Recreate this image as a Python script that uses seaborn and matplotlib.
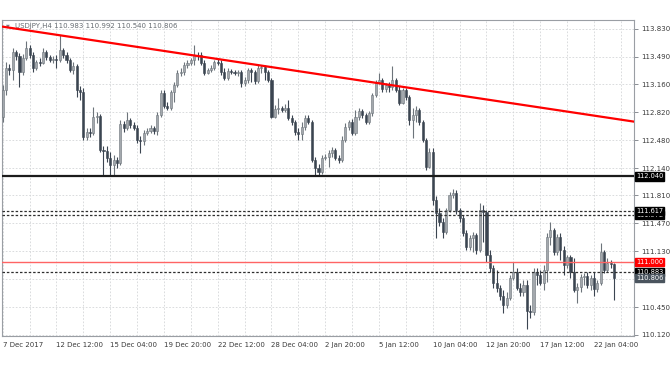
import numpy as np
import pandas as pd
import seaborn as sns
import matplotlib.pyplot as plt
from matplotlib.transforms import blended_transform_factory

# USDJPY H4 candles (bar 0 = 7 Dec 2017)
opens = [112.76, 113.09, 113.36, 113.33, 113.55, 113.50, 113.31, 113.48, 113.60, 113.52,
         113.36, 113.43, 113.42, 113.55, 113.49, 113.45, 113.47, 113.45, 113.58, 113.52,
         113.45, 113.33, 113.38, 113.09, 113.07, 112.52, 112.58, 112.57, 112.76, 112.77,
         112.36, 112.35, 112.27, 112.18, 112.24, 112.20, 112.68, 112.63, 112.73, 112.67,
         112.63, 112.48, 112.47, 112.57, 112.59, 112.63, 112.59, 112.79, 113.05, 112.90,
         112.87, 113.07, 113.15, 113.30, 113.31, 113.39, 113.42, 113.45, 113.52, 113.51,
         113.42, 113.30, 113.33, 113.36, 113.43, 113.42, 113.31, 113.24, 113.32, 113.31,
         113.30, 113.31, 113.17, 113.21, 113.33, 113.31, 113.20, 113.36, 113.37, 113.31,
         113.21, 112.76, 112.86, 112.87, 112.85, 112.87, 112.75, 112.70, 112.58, 112.56,
         112.64, 112.75, 112.70, 112.24, 112.14, 112.09, 112.27, 112.28, 112.33, 112.36,
         112.27, 112.24, 112.48, 112.64, 112.70, 112.57, 112.76, 112.83, 112.79, 112.70,
         112.81, 113.03, 113.19, 113.21, 113.10, 113.15, 113.13, 113.21, 113.09, 112.93,
         113.09, 113.01, 112.73, 112.79, 112.85, 112.70, 112.48, 112.16, 112.34, 111.75,
         111.60, 111.49, 111.37, 111.63, 111.82, 111.84, 111.63, 111.54, 111.35, 111.18,
         111.29, 111.33, 111.15, 111.63, 111.61, 111.09, 110.93, 110.75, 110.69, 110.59,
         110.48, 110.57, 110.81, 110.88, 110.69, 110.64, 110.72, 110.41, 110.40, 110.88,
         110.85, 110.75, 110.91, 111.31, 111.39, 111.12, 111.31, 111.15, 110.97, 111.06,
         110.88, 110.66, 110.70, 110.82, 110.83, 110.72, 110.81, 110.67, 110.75, 111.12,
         110.91, 110.99, 110.983]
highs = [113.15, 113.43, 113.41, 113.60, 113.58, 113.54, 113.53, 113.68, 113.64, 113.55,
         113.45, 113.48, 113.60, 113.58, 113.52, 113.50, 113.52, 113.76, 113.60, 113.55,
         113.48, 113.43, 113.41, 113.14, 113.11, 112.63, 112.63, 112.88, 112.82, 112.80,
         112.41, 112.41, 112.34, 112.30, 112.28, 112.73, 112.71, 112.82, 112.75, 112.70,
         112.67, 112.53, 112.60, 112.63, 112.67, 112.65, 112.82, 113.09, 113.09, 112.94,
         113.09, 113.19, 113.33, 113.36, 113.43, 113.45, 113.48, 113.64, 113.55, 113.55,
         113.45, 113.36, 113.39, 113.45, 113.48, 113.45, 113.36, 113.36, 113.34, 113.33,
         113.33, 113.33, 113.25, 113.36, 113.36, 113.33, 113.39, 113.39, 113.39, 113.33,
         113.24, 112.91, 112.99, 112.90, 112.92, 112.97, 112.79, 112.73, 112.63, 112.70,
         112.79, 112.79, 112.73, 112.28, 112.19, 112.30, 112.31, 112.36, 112.40, 112.39,
         112.30, 112.53, 112.69, 112.73, 112.74, 112.85, 112.87, 112.86, 112.81, 112.83,
         113.05, 113.21, 113.30, 113.24, 113.17, 113.19, 113.38, 113.24, 113.14, 113.11,
         113.11, 113.03, 112.87, 112.90, 112.87, 112.73, 112.51, 112.39, 112.39, 111.80,
         111.66, 111.54, 111.66, 111.85, 111.89, 111.88, 111.66, 111.57, 111.39, 111.33,
         111.37, 111.35, 111.72, 111.69, 111.63, 111.15, 110.97, 110.91, 110.72, 110.66,
         110.64, 110.85, 111.00, 110.93, 110.75, 110.78, 110.78, 110.48, 110.93, 110.93,
         110.91, 110.97, 111.35, 111.49, 111.42, 111.34, 111.35, 111.20, 111.09, 111.09,
         111.05, 110.75, 110.86, 110.87, 110.88, 110.85, 110.88, 110.78, 111.23, 111.15,
         111.05, 111.03, 110.992]
lows = [112.70, 113.03, 113.27, 113.21, 113.45, 113.13, 113.27, 113.45, 113.48, 113.31,
        113.33, 113.38, 113.41, 113.45, 113.43, 113.42, 113.36, 113.43, 113.48, 113.42,
        113.31, 113.28, 113.01, 112.97, 112.48, 112.48, 112.52, 112.54, 112.69, 112.34,
        112.06, 112.22, 112.05, 112.06, 112.14, 112.18, 112.58, 112.60, 112.63, 112.60,
        112.45, 112.33, 112.42, 112.54, 112.57, 112.56, 112.54, 112.76, 112.87, 112.85,
        112.85, 112.94, 113.13, 113.26, 113.27, 113.36, 113.39, 113.39, 113.45, 113.39,
        113.27, 113.28, 113.31, 113.33, 113.39, 113.27, 113.21, 113.21, 113.28, 113.27,
        113.26, 113.13, 113.14, 113.17, 113.19, 113.16, 113.17, 113.30, 113.21, 113.19,
        112.75, 112.75, 112.80, 112.82, 112.82, 112.73, 112.67, 112.54, 112.48, 112.48,
        112.60, 112.68, 112.22, 112.05, 112.05, 112.07, 112.24, 112.16, 112.28, 112.24,
        112.20, 112.22, 112.46, 112.60, 112.54, 112.54, 112.73, 112.75, 112.68, 112.68,
        112.77, 113.01, 113.16, 113.07, 113.07, 113.07, 113.09, 113.07, 112.91, 112.92,
        112.97, 112.67, 112.51, 112.70, 112.67, 112.46, 112.12, 112.14, 111.69, 111.29,
        111.44, 111.29, 111.34, 111.61, 111.78, 111.58, 111.49, 111.32, 111.15, 111.15,
        111.12, 111.10, 111.12, 111.25, 111.00, 110.88, 110.69, 110.64, 110.54, 110.38,
        110.44, 110.54, 110.78, 110.66, 110.59, 110.59, 110.19, 110.32, 110.36, 110.72,
        110.72, 110.66, 110.76, 111.21, 111.09, 111.09, 111.03, 110.85, 110.93, 110.81,
        110.64, 110.51, 110.64, 110.72, 110.69, 110.66, 110.59, 110.64, 110.72, 110.87,
        110.88, 110.93, 110.540]
closes = [113.09, 113.36, 113.33, 113.55, 113.50, 113.31, 113.48, 113.60, 113.52, 113.36,
          113.43, 113.42, 113.55, 113.49, 113.45, 113.47, 113.45, 113.58, 113.52, 113.45,
          113.33, 113.38, 113.09, 113.07, 112.52, 112.58, 112.57, 112.76, 112.77, 112.36,
          112.35, 112.27, 112.18, 112.24, 112.20, 112.68, 112.63, 112.73, 112.67, 112.63,
          112.48, 112.47, 112.57, 112.59, 112.63, 112.59, 112.79, 113.05, 112.90, 112.87,
          113.07, 113.15, 113.30, 113.31, 113.39, 113.42, 113.45, 113.52, 113.51, 113.42,
          113.30, 113.33, 113.36, 113.43, 113.42, 113.31, 113.24, 113.32, 113.31, 113.30,
          113.31, 113.17, 113.21, 113.33, 113.31, 113.20, 113.36, 113.37, 113.31, 113.21,
          112.76, 112.86, 112.87, 112.85, 112.87, 112.75, 112.70, 112.58, 112.56, 112.64,
          112.75, 112.70, 112.24, 112.14, 112.09, 112.27, 112.28, 112.33, 112.36, 112.27,
          112.24, 112.48, 112.64, 112.70, 112.57, 112.76, 112.83, 112.79, 112.70, 112.81,
          113.03, 113.19, 113.21, 113.10, 113.15, 113.13, 113.21, 113.09, 112.93, 113.09,
          113.01, 112.73, 112.79, 112.85, 112.70, 112.48, 112.16, 112.34, 111.75, 111.60,
          111.49, 111.37, 111.63, 111.82, 111.84, 111.63, 111.54, 111.35, 111.18, 111.29,
          111.33, 111.15, 111.63, 111.61, 111.09, 110.93, 110.75, 110.69, 110.59, 110.48,
          110.57, 110.81, 110.88, 110.69, 110.64, 110.72, 110.41, 110.40, 110.88, 110.85,
          110.75, 110.91, 111.31, 111.39, 111.12, 111.31, 111.15, 110.97, 111.06, 110.88,
          110.66, 110.70, 110.82, 110.83, 110.72, 110.81, 110.67, 110.75, 111.12, 110.91,
          110.99, 110.98, 110.806]

symbol = "USDJPY,H4"
tick_bars = [0, 16, 32, 48, 64, 80, 96, 112, 128, 144, 160, 176]
date_labels = ["7 Dec 2017", "12 Dec 12:00", "15 Dec 04:00", "19 Dec 20:00",
               "22 Dec 12:00", "28 Dec 04:00", "2 Jan 20:00", "5 Jan 12:00",
               "10 Jan 04:00", "12 Jan 20:00", "17 Jan 12:00", "22 Jan 04:00"]
price_ticks = [113.830, 113.490, 113.160, 112.820, 112.480, 112.140,
               111.810, 111.470, 111.130, 110.790, 110.450, 110.120]
hidden_tick = 110.790  # sits under the current-price tag

# drawn levels
support = 112.040
red_level = 111.000
dashed_levels = [111.617, 111.572, 110.883]
trend_bars = [0, 188]
trend_prices = [113.858, 112.705]

df = pd.DataFrame({"open": opens, "high": highs, "low": lows, "close": closes})
df["bar"] = np.arange(len(df))
df["up"] = df["close"] >= df["open"]

sns.set_style("white")
plt.rcParams["font.family"] = ["DejaVu Sans"]

fig = plt.figure(figsize=(6.72, 3.72), dpi=100)
ax = fig.add_axes([2 / 672, 36 / 372, 632 / 672, 316 / 372])

grid_kw = dict(color="#d4d6d8", lw=0.6, ls=(0, (2, 2)), zorder=0)
for b in range(0, 189, 8):
    ax.axvline(b, **grid_kw)
for p in price_ticks:
    ax.axhline(p, **grid_kw)

bull_face, bull_edge = "#a3a8ad", "#6d747b"
bear_face = "#3b4551"
for up, grp in df.groupby("up"):
    face = bull_face if up else bear_face
    edge = bull_edge if up else bear_face
    ax.vlines(grp["bar"], grp["low"], grp["high"], color=edge, lw=0.8, zorder=2)
    body = (grp["close"] - grp["open"]).abs().clip(lower=0.008)
    ax.bar(grp["bar"], body, bottom=grp[["open", "close"]].min(axis=1), width=0.62,
           color=face, edgecolor=edge, linewidth=0.4, zorder=3)

ax.axhline(support, color="#1b1b1b", lw=1.6, zorder=4)
ax.axhline(red_level, color="#ff6464", lw=1.0, zorder=4)
for lv in dashed_levels:
    ax.axhline(lv, color="#2e2e2e", lw=0.9, ls=(0, (2, 1.5)), zorder=4)
sns.lineplot(x=trend_bars, y=trend_prices, color="#ff0000", lw=1.6, ax=ax, zorder=5)

ax.set_xlim(-0.2, 187.9)
ax.set_ylim(110.104, 113.939)

for s in ax.spines.values():
    s.set_color("#9a9ea4")
    s.set_linewidth(0.8)

ax.yaxis.tick_right()
ax.set_yticks(price_ticks)
ax.set_yticklabels(["" if p == hidden_tick else f"{p:.3f}" for p in price_ticks])
ax.set_xticks(tick_bars)
ax.set_xticklabels(date_labels, ha="left")
ax.tick_params(axis="both", length=3, width=0.7, color="#8a8e94",
               labelsize=5, labelcolor="#3a3a3a")
ax.tick_params(axis="x", pad=1.5)
ax.tick_params(axis="y", pad=2)
ax.set_xlabel("")
ax.set_ylabel("")

# price tags on the right scale (later tags sit on top of earlier ones)
tr = blended_transform_factory(ax.transAxes, ax.transData)
tags = [(support, "#000000"), (111.572, "#000000"), (111.617, "#000000"),
        (red_level, "#ff0000"), (110.883, "#000000"), (110.806, "#4a545e")]
for price, face in tags:
    ax.text(1.003, price, f"{price:.3f}", transform=tr, ha="left", va="center",
            fontsize=4.8, color="white", clip_on=False, zorder=6,
            bbox=dict(boxstyle="square,pad=0.16", fc=face, ec=face))

header = f"{symbol} {opens[-1]:.3f} {highs[-1]:.3f} {lows[-1]:.3f} {closes[-1]:.3f}"
ax.text(0.006, 0.981, "\u25bc", transform=ax.transAxes, fontsize=3.5,
        color="#7a8088", va="center", ha="left", zorder=1)
ax.text(0.021, 0.981, header, transform=ax.transAxes, fontsize=5,
        color="#666c72", va="center", ha="left", zorder=1)

fig.savefig("out.png", dpi=100, facecolor="white")
